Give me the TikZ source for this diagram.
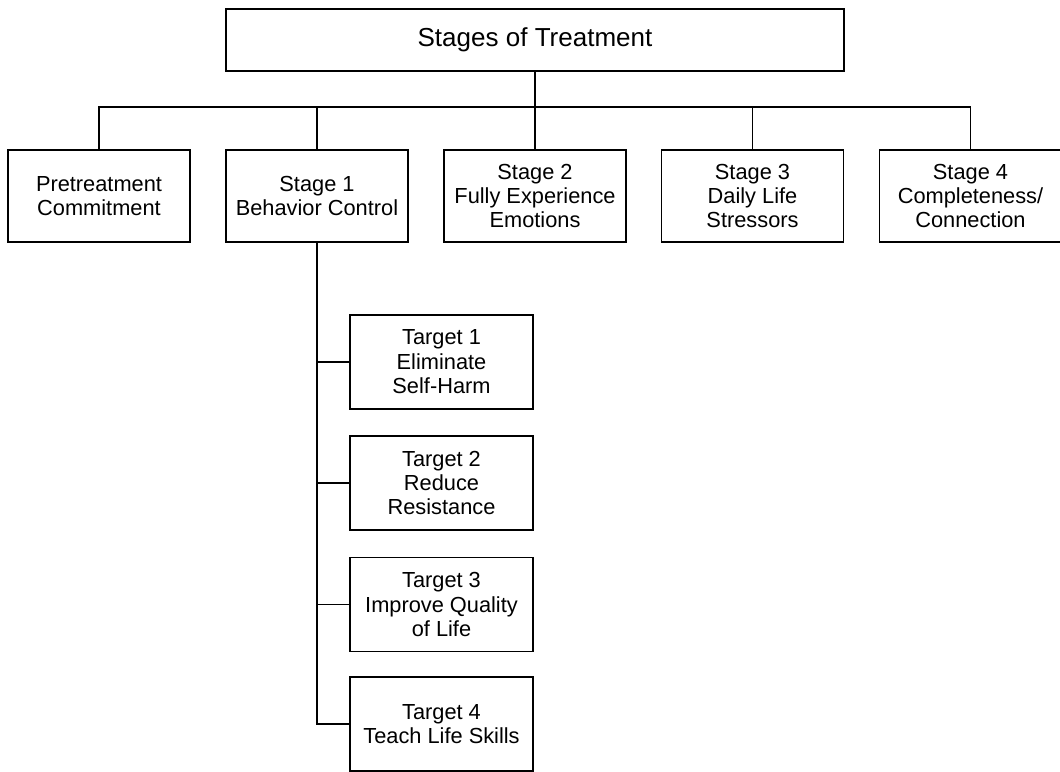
\documentclass[tikz,border=0pt]{standalone}
\usepackage{fontspec}
\setmainfont{Liberation Sans}
\begin{document}
\begin{tikzpicture}[x=0.025cm, y=-0.025cm, line width=1.3pt,
    box/.style={draw, line width=1.3pt, align=center, inner sep=0pt,
      font=\fontsize{15.5}{16.8}\selectfont},
    stagebox/.style={box, minimum width=4.55cm, minimum height=2.3cm},
    targetbox/.style={box, minimum width=4.575cm, minimum height=2.35cm,
      font=\fontsize{15.5}{17.4}\selectfont}]
    \useasboundingbox (0,0) rectangle (1060,771);

    % titolo
    \node[box, minimum width=15.45cm, minimum height=1.55cm,
      font=\fontsize{18.5}{22}\selectfont] (top) at (535,40) {Stages of Treatment};

    % stadi
    \node[stagebox] (pre) at (99,196) {Pretreatment\\Commitment};
    \node[stagebox] (s1) at (317,196) {Stage 1\\Behavior Control};
    \node[stagebox] (s2) at (535,196) {Stage 2\\Fully Experience\\Emotions};
    \node[stagebox] (s3) at (752.5,196) {Stage 3\\Daily Life\\Stressors};
    \node[stagebox] (s4) at (970.5,196) {Stage 4\\Completeness/\\Connection};

    % linea orizzontale
    \coordinate (bus) at (535,107);
    \draw (top.south) -- (bus);
    \draw (pre.north) |- (bus) -| (s4.north);
    \foreach \s in {s1,s2,s3}
        \draw (\s.north) -- (\s.north |- bus);

    % obiettivi dello stadio 1
    \node[targetbox] (t1) at (441.5,362) {Target 1\\Eliminate\\Self-Harm};
    \node[targetbox] (t2) at (441.5,483) {Target 2\\Reduce\\Resistance};
    \node[targetbox] (t3) at (441.5,604.5) {Target 3\\Improve Quality\\of Life};
    \node[targetbox] (t4) at (441.5,724) {Target 4\\Teach Life Skills};

    \draw (s1.south) |- (t4.west);
    \foreach \t in {t1,t2,t3}
        \draw (\t.west) -- (\t.west -| s1.south);
\end{tikzpicture}
\end{document}
